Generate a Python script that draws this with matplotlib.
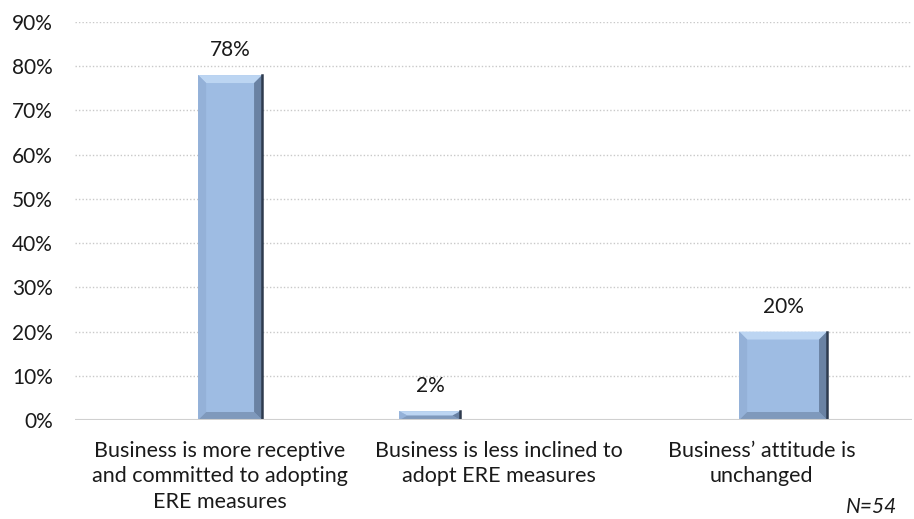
import matplotlib.pyplot as plt
from matplotlib.patches import Polygon, Rectangle

# survey answers (share of respondents)
categories = [
    "Business is more receptive\nand committed to adopting\nERE measures",
    "Business is less inclined to\nadopt ERE measures",
    "Business\u2019 attitude is\nunchanged",
]
shares = [0.78, 0.02, 0.20]
value_labels = ["78%", "2%", "20%"]
y_ticks = [0, 0.1, 0.2, 0.3, 0.4, 0.5, 0.6, 0.7, 0.8, 0.9]
y_tick_labels = ["0%", "10%", "20%", "30%", "40%", "50%", "60%", "70%", "80%", "90%"]
note = "N=54"

# bar placement within the 3 category slots
bar_x = [0.556, 1.272, 2.538]
bar_w = [0.229, 0.219, 0.315]
label_x = [0.52, 1.52, 2.46]

FACE = "#9EBCE3"
W, H = 914, 519
plt.rcParams["font.family"] = ["Lato", "DejaVu Sans"]

fig = plt.figure(figsize=(W / 100, H / 100), dpi=100)
ax = fig.add_axes([75 / W, (H - 420) / H, 837 / W, 398 / H])
ax.set_xlim(0, 3)
ax.set_ylim(0, 0.9)

# pixel -> data scale for the bevel
px_x = 3 / 837
px_y = 0.9 / 398

for y in y_ticks[1:]:
    ax.axhline(y, color="#C9C9C9", lw=1, ls=(0, (1, 1.5)), zorder=0)
ax.axhline(0, color="#D0D0D0", lw=1.5, zorder=3)

for x, w, v, lab in zip(bar_x, bar_w, shares, value_labels):
    x0, x1 = x - w / 2, x + w / 2
    ax.add_patch(Rectangle((x0, 0), w, v, facecolor=FACE, edgecolor="none", zorder=2))
    bx = min(8 * px_x, w / 4)
    by = min(8 * px_y, v / 2)
    # top bevel (highlight)
    ax.add_patch(Polygon([(x0, v), (x1, v), (x1 - bx, v - by), (x0 + bx, v - by)],
                         facecolor="#BCD5F2", edgecolor="none", zorder=2))
    # left bevel
    ax.add_patch(Polygon([(x0, 0), (x0, v), (x0 + bx, v - by), (x0 + bx, by)],
                         facecolor="#94B1D8", edgecolor="none", zorder=2))
    # bottom bevel
    ax.add_patch(Polygon([(x0, 0), (x1, 0), (x1 - bx, by), (x0 + bx, by)],
                         facecolor="#7F99BC", edgecolor="none", zorder=2))
    # right bevel (shadow)
    ax.add_patch(Polygon([(x1, 0), (x1, v), (x1 - bx, v - by), (x1 - bx, by)],
                         facecolor="#6A82A3", edgecolor="none", zorder=2))
    ax.plot([x1, x1], [0, v], color="#2E3B4E", lw=1.8, zorder=2)
    ax.text(x, v + 25 * px_y, lab, ha="center", va="center", fontsize=15, color="#1A1A1A")

ax.set_yticks(y_ticks)
ax.set_yticklabels(y_tick_labels, fontsize=15, color="#1A1A1A")
ax.set_xticks(label_x)
ax.set_xticklabels(categories, fontsize=15.5, color="#1A1A1A", linespacing=1.35)
ax.tick_params(axis="both", length=0)
ax.tick_params(axis="y", pad=16)
ax.tick_params(axis="x", pad=15)
for s in ax.spines.values():
    s.set_visible(False)

fig.text(897 / W, 1 - 507 / H, note, ha="right", va="center", fontsize=15,
         style="italic", color="#1A1A1A")

fig.savefig("out.png", dpi=100)
